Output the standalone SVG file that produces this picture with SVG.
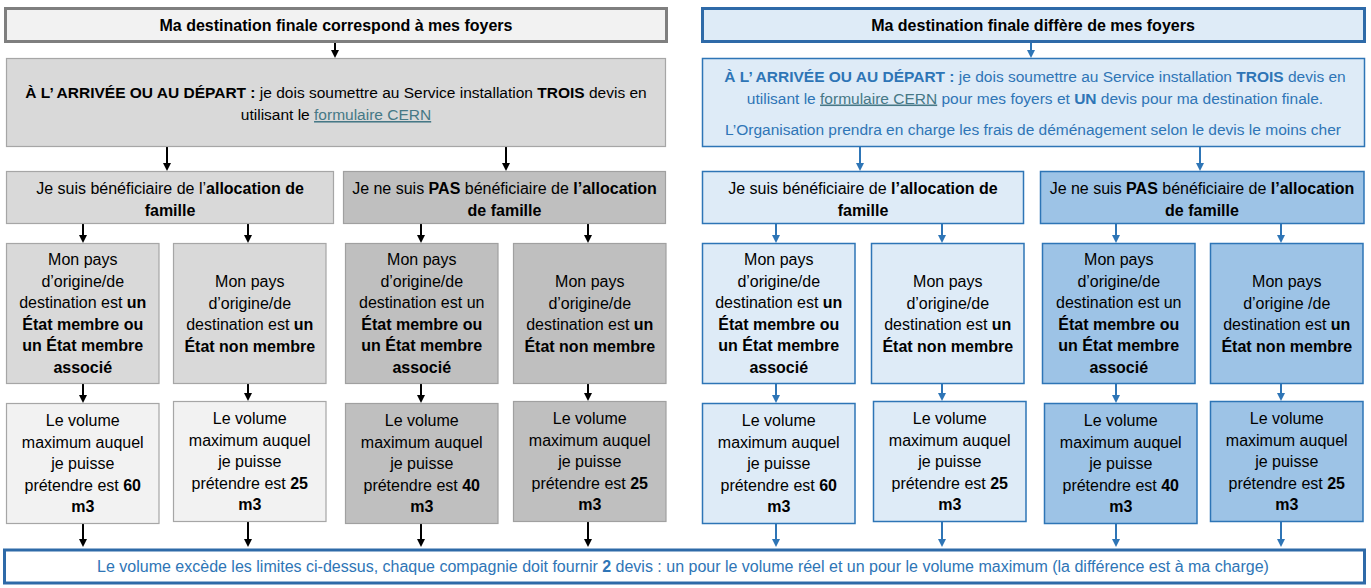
<svg xmlns="http://www.w3.org/2000/svg" width="1371" height="588" viewBox="0 0 1371 588">
<style>
text{font-family:"Liberation Sans",Arial,sans-serif;font-size:16px;fill:#000;text-anchor:middle}
.b{font-weight:bold}
.blue{fill:#2e75b6}
.link{fill:#467886;text-decoration:underline}
.big{font-size:15.5px}
.g1{fill:#f2f2f2;stroke:#a6a6a6;stroke-width:1.2}
.g2{fill:#d9d9d9;stroke:#a6a6a6;stroke-width:1.2}
.g3{fill:#bfbfbf;stroke:#a0a0a0;stroke-width:1.2}
.b1{fill:#deebf7;stroke:#2e75b6;stroke-width:1.5}
.b2{fill:#9dc3e6;stroke:#2e75b6;stroke-width:1.5}
.hg{fill:#f2f2f2;stroke:#7f7f7f;stroke-width:3}
.hb{fill:#deebf7;stroke:#2e6aa8;stroke-width:3}
.bar{fill:#ffffff;stroke:#2e6aa8;stroke-width:3}
.ak{stroke:#000;stroke-width:2;fill:none;marker-end:url(#ak)}
.ab{stroke:#2e75b6;stroke-width:2;fill:none;marker-end:url(#ab)}
</style>
<defs>
<marker id="ak" viewBox="0 0 8 8" refX="6" refY="4" markerWidth="8" markerHeight="8" markerUnits="userSpaceOnUse" orient="auto"><path d="M0,0 L8,4 L0,8 z" fill="#000"/></marker>
<marker id="ab" viewBox="0 0 8 8" refX="6" refY="4" markerWidth="8" markerHeight="8" markerUnits="userSpaceOnUse" orient="auto"><path d="M0,0 L8,4 L0,8 z" fill="#2e75b6"/></marker>
</defs>
<rect width="1371" height="588" fill="#ffffff"/>

<g id="connectors">
<line class="ak" x1="335" y1="43" x2="335" y2="56"/>
<line class="ab" x1="1031" y1="43" x2="1031" y2="56"/>
<line class="ak" x1="167" y1="147" x2="167" y2="169"/>
<line class="ak" x1="506" y1="147" x2="506" y2="169"/>
<line class="ab" x1="860" y1="147" x2="860" y2="169"/>
<line class="ab" x1="1200" y1="147" x2="1200" y2="169"/>
<line class="ak" x1="83" y1="224" x2="83" y2="241"/>
<line class="ak" x1="248" y1="224" x2="248" y2="241"/>
<line class="ak" x1="421" y1="224" x2="421" y2="241"/>
<line class="ak" x1="588" y1="224" x2="588" y2="241"/>
<line class="ab" x1="776" y1="224" x2="776" y2="241"/>
<line class="ab" x1="942" y1="224" x2="942" y2="241"/>
<line class="ab" x1="1116" y1="224" x2="1116" y2="241"/>
<line class="ab" x1="1281" y1="224" x2="1281" y2="241"/>
<line class="ak" x1="83" y1="384" x2="83" y2="401"/>
<line class="ak" x1="248" y1="384" x2="248" y2="399"/>
<line class="ak" x1="421" y1="384" x2="421" y2="401"/>
<line class="ak" x1="588" y1="384" x2="588" y2="399"/>
<line class="ab" x1="776" y1="384" x2="776" y2="401"/>
<line class="ab" x1="942" y1="384" x2="942" y2="399"/>
<line class="ab" x1="1116" y1="384" x2="1116" y2="401"/>
<line class="ab" x1="1281" y1="384" x2="1281" y2="399"/>
<line class="ak" x1="83" y1="524" x2="83" y2="545"/>
<line class="ak" x1="248" y1="522" x2="248" y2="545"/>
<line class="ak" x1="421" y1="524" x2="421" y2="545"/>
<line class="ak" x1="588" y1="522" x2="588" y2="545"/>
<line class="ab" x1="776" y1="524" x2="776" y2="545"/>
<line class="ab" x1="942" y1="522" x2="942" y2="545"/>
<line class="ab" x1="1116" y1="524" x2="1116" y2="545"/>
<line class="ab" x1="1281" y1="522" x2="1281" y2="545"/>
</g>

<g id="header-left">
<rect class="hg" x="5.5" y="8.5" width="661" height="33"/>
<text class="b" x="336" y="30.5">Ma destination finale correspond à mes foyers</text>
</g>
<g id="header-right">
<rect class="hb" x="702.5" y="8.5" width="662" height="33"/>
<text class="b" x="1033" y="30.5">Ma destination finale diffère de mes foyers</text>
</g>

<g id="devis-left">
<rect class="g2" x="6.5" y="58.5" width="659" height="88"/>
<text class="big" x="336" y="98"><tspan class="b">À L’ ARRIVÉE OU AU DÉPART :</tspan>  je dois soumettre au Service installation <tspan class="b">TROIS</tspan> devis en</text>
<text class="big" x="336" y="120">utilisant le <tspan class="link">formulaire CERN</tspan></text>
</g>
<g id="devis-right">
<rect class="b1" x="702.5" y="58.5" width="662" height="88"/>
<text class="big blue" x="1035" y="81.5"><tspan class="b">À L’ ARRIVÉE OU AU DÉPART :</tspan>  je dois soumettre au Service installation <tspan class="b">TROIS</tspan> devis en</text>
<text class="big blue" x="1035" y="103.5">utilisant le <tspan class="link">formulaire CERN</tspan> pour mes foyers et <tspan class="b">UN</tspan> devis pour ma destination finale.</text>
<text class="big blue" x="1033" y="135">L’Organisation prendra en charge les frais de déménagement selon le devis le moins cher</text>
</g>

<g id="alloc-left">
<rect class="g2" x="6.5" y="171.5" width="327" height="52"/>
<text x="170" y="193.5">Je suis bénéficiaire de l’<tspan class="b">allocation de</tspan></text>
<text class="b" x="170" y="215.5">famille</text>
</g>
<g id="noalloc-left">
<rect class="g3" x="343.5" y="171.5" width="322" height="52"/>
<text x="504.5" y="193.5">Je ne suis <tspan class="b">PAS</tspan> bénéficiaire de <tspan class="b">l’allocation</tspan></text>
<text class="b" x="504.5" y="215.5">de famille</text>
</g>
<g id="alloc-right">
<rect class="b1" x="702.5" y="171.5" width="321" height="52"/>
<text x="863" y="193.5">Je suis bénéficiaire de <tspan class="b">l’allocation de</tspan></text>
<text class="b" x="863" y="215.5">famille</text>
</g>
<g id="noalloc-right">
<rect class="b2" x="1040.5" y="171.5" width="323.5" height="52"/>
<text x="1202" y="193.5">Je ne suis <tspan class="b">PAS</tspan> bénéficiaire de <tspan class="b">l’allocation</tspan></text>
<text class="b" x="1202" y="215.5">de famille</text>
</g>

<g id="pays-l1">
<rect class="g2" x="6.5" y="243.5" width="152.5" height="140"/>
<text x="82.75" y="265">Mon pays</text>
<text x="82.75" y="286.5">d’origine/de</text>
<text x="82.75" y="308">destination est <tspan class="b">un</tspan></text>
<text class="b" x="82.75" y="329.5">État membre ou</text>
<text class="b" x="82.75" y="351">un État membre</text>
<text class="b" x="82.75" y="372.5">associé</text>
</g>
<g id="pays-l2">
<rect class="g2" x="173.5" y="243.5" width="152.5" height="140"/>
<text x="249.75" y="287">Mon pays</text>
<text x="249.75" y="308.5">d’origine/de</text>
<text x="249.75" y="330">destination est <tspan class="b">un</tspan></text>
<text class="b" x="249.75" y="351.5">État non membre</text>
</g>
<g id="pays-l3">
<rect class="g3" x="345.5" y="243.5" width="152.5" height="140"/>
<text x="421.75" y="265">Mon pays</text>
<text x="421.75" y="286.5">d’origine/de</text>
<text x="421.75" y="308">destination est un</text>
<text class="b" x="421.75" y="329.5">État membre ou</text>
<text class="b" x="421.75" y="351">un État membre</text>
<text class="b" x="421.75" y="372.5">associé</text>
</g>
<g id="pays-l4">
<rect class="g3" x="513.5" y="243.5" width="152.5" height="140"/>
<text x="589.75" y="287">Mon pays</text>
<text x="589.75" y="308.5">d’origine/de</text>
<text x="589.75" y="330">destination est <tspan class="b">un</tspan></text>
<text class="b" x="589.75" y="351.5">État non membre</text>
</g>
<g id="pays-r1">
<rect class="b1" x="702.5" y="243.5" width="152.5" height="140"/>
<text x="778.75" y="265">Mon pays</text>
<text x="778.75" y="286.5">d’origine/de</text>
<text x="778.75" y="308">destination est <tspan class="b">un</tspan></text>
<text class="b" x="778.75" y="329.5">État membre ou</text>
<text class="b" x="778.75" y="351">un État membre</text>
<text class="b" x="778.75" y="372.5">associé</text>
</g>
<g id="pays-r2">
<rect class="b1" x="871.5" y="243.5" width="152.5" height="140"/>
<text x="947.75" y="287">Mon pays</text>
<text x="947.75" y="308.5">d’origine/de</text>
<text x="947.75" y="330">destination est <tspan class="b">un</tspan></text>
<text class="b" x="947.75" y="351.5">État non membre</text>
</g>
<g id="pays-r3">
<rect class="b2" x="1042.5" y="243.5" width="152.5" height="140"/>
<text x="1118.75" y="265">Mon pays</text>
<text x="1118.75" y="286.5">d’origine/de</text>
<text x="1118.75" y="308">destination est un</text>
<text class="b" x="1118.75" y="329.5">État membre ou</text>
<text class="b" x="1118.75" y="351">un État membre</text>
<text class="b" x="1118.75" y="372.5">associé</text>
</g>
<g id="pays-r4">
<rect class="b2" x="1210.5" y="243.5" width="152.5" height="140"/>
<text x="1286.75" y="287">Mon pays</text>
<text x="1286.75" y="308.5">d’origine /de</text>
<text x="1286.75" y="330">destination est <tspan class="b">un</tspan></text>
<text class="b" x="1286.75" y="351.5">État non membre</text>
</g>

<g id="vol-l1">
<rect class="g1" x="6.5" y="403.5" width="152.5" height="120"/>
<text x="82.75" y="426">Le volume</text>
<text x="82.75" y="447.5">maximum auquel</text>
<text x="82.75" y="469">je puisse</text>
<text x="82.75" y="490.5">prétendre est <tspan class="b">60</tspan></text>
<text class="b" x="82.75" y="512">m3</text>
</g>
<g id="vol-l2">
<rect class="g1" x="173.5" y="401.5" width="152.5" height="120"/>
<text x="249.75" y="424">Le volume</text>
<text x="249.75" y="445.5">maximum auquel</text>
<text x="249.75" y="467">je puisse</text>
<text x="249.75" y="488.5">prétendre est <tspan class="b">25</tspan></text>
<text class="b" x="249.75" y="510">m3</text>
</g>
<g id="vol-l3">
<rect class="g3" x="345.5" y="403.5" width="152.5" height="120"/>
<text x="421.75" y="426">Le volume</text>
<text x="421.75" y="447.5">maximum auquel</text>
<text x="421.75" y="469">je puisse</text>
<text x="421.75" y="490.5">prétendre est <tspan class="b">40</tspan></text>
<text class="b" x="421.75" y="512">m3</text>
</g>
<g id="vol-l4">
<rect class="g3" x="513.5" y="401.5" width="152.5" height="120"/>
<text x="589.75" y="424">Le volume</text>
<text x="589.75" y="445.5">maximum auquel</text>
<text x="589.75" y="467">je puisse</text>
<text x="589.75" y="488.5">prétendre est <tspan class="b">25</tspan></text>
<text class="b" x="589.75" y="510">m3</text>
</g>
<g id="vol-r1">
<rect class="b1" x="702.5" y="403.5" width="152.5" height="120"/>
<text x="778.75" y="426">Le volume</text>
<text x="778.75" y="447.5">maximum auquel</text>
<text x="778.75" y="469">je puisse</text>
<text x="778.75" y="490.5">prétendre est <tspan class="b">60</tspan></text>
<text class="b" x="778.75" y="512">m3</text>
</g>
<g id="vol-r2">
<rect class="b1" x="873.5" y="401.5" width="152.5" height="120"/>
<text x="949.75" y="424">Le volume</text>
<text x="949.75" y="445.5">maximum auquel</text>
<text x="949.75" y="467">je puisse</text>
<text x="949.75" y="488.5">prétendre est <tspan class="b">25</tspan></text>
<text class="b" x="949.75" y="510">m3</text>
</g>
<g id="vol-r3">
<rect class="b2" x="1044.5" y="403.5" width="152.5" height="120"/>
<text x="1120.75" y="426">Le volume</text>
<text x="1120.75" y="447.5">maximum auquel</text>
<text x="1120.75" y="469">je puisse</text>
<text x="1120.75" y="490.5">prétendre est <tspan class="b">40</tspan></text>
<text class="b" x="1120.75" y="512">m3</text>
</g>
<g id="vol-r4">
<rect class="b2" x="1210.5" y="401.5" width="152.5" height="120"/>
<text x="1286.75" y="424">Le volume</text>
<text x="1286.75" y="445.5">maximum auquel</text>
<text x="1286.75" y="467">je puisse</text>
<text x="1286.75" y="488.5">prétendre est <tspan class="b">25</tspan></text>
<text class="b" x="1286.75" y="510">m3</text>
</g>

<g id="exces">
<rect class="bar" x="4.5" y="550" width="1360" height="33"/>
<text class="blue" x="683" y="572">Le volume excède les limites ci-dessus, chaque compagnie doit fournir <tspan class="b">2</tspan> devis : un pour le volume réel et un pour le volume maximum (la différence est à ma charge)</text>
</g>
</svg>
